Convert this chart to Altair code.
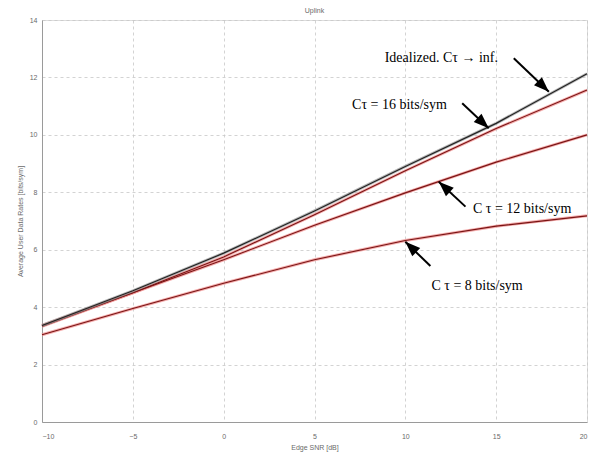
import altair as alt
import pandas as pd

# ---- data ----
snr = [-10, -5, 0, 5, 10, 15, 20]
ideal = [3.36, 4.57, 5.88, 7.35, 8.9, 10.4, 12.13]
ct16 = [3.33, 4.5, 5.75, 7.22, 8.75, 10.22, 11.56]
ct12 = [3.36, 4.5, 5.65, 6.85, 7.98, 9.05, 10.0]
ct8 = [3.04, 3.95, 4.83, 5.65, 6.32, 6.82, 7.18]

ann_text = ["Idealized. C\u03c4 \u2192 inf.", "C\u03c4 = 16 bits/sym",
            "C \u03c4 = 12 bits/sym", "C \u03c4 = 8 bits/sym"]
ann_x = [11.98, 9.68, 16.43, 13.95]
ann_y = [12.67, 11.04, 7.42, 4.75]

arr_x0 = [15.97, 13.13, 13.31, 11.38]
arr_y0 = [12.67, 11.10, 7.50, 5.43]
arr_x1 = [17.90, 14.59, 11.84, 10.00]
arr_y1 = [11.50, 10.23, 8.37, 6.28]
arr_angle = [134, 133, 313, 314]

x_ticks = [-10, -5, 0, 5, 10, 15, 20]
y_ticks = [0, 2, 4, 6, 8, 10, 12, 14]

# ---- tables ----
red = pd.DataFrame({
    "snr": snr * 3,
    "rate": ct16 + ct12 + ct8,
    "series": ["16"] * 7 + ["12"] * 7 + ["8"] * 7,
})
blk = pd.DataFrame({"snr": snr, "rate": ideal})
ann = pd.DataFrame({"t": ann_text, "x": ann_x, "y": ann_y})
arr = pd.DataFrame({"x0": arr_x0, "y0": arr_y0, "x1": arr_x1, "y1": arr_y1, "a": arr_angle})

xs = alt.Scale(domain=[-10, 20], nice=False, zero=False)
ys = alt.Scale(domain=[0, 14], nice=False, zero=False)

axis_common = dict(
    grid=True, gridDash=[3, 3], gridColor="#c8c8c8", gridWidth=0.8,
    domainColor="#9a9a9a", ticks=False,
    labelFont="Liberation Sans", labelFontSize=7, labelColor="#6a6a6a",
    titleFont="Liberation Sans", titleFontSize=7, titleColor="#6a6a6a",
    titleFontWeight="normal",
)

X = alt.X("snr:Q", scale=xs, title="Edge SNR [dB]",
          axis=alt.Axis(values=x_ticks, labelPadding=10, titlePadding=4, **axis_common))
Y = alt.Y("rate:Q", scale=ys, title="Average User Data Rates [bits/sym]",
          axis=alt.Axis(values=y_ticks, labelPadding=5, titlePadding=6, **axis_common))

red_halo = alt.Chart(red).mark_line(color="#f08a8a", strokeWidth=3, opacity=0.7).encode(
    x=X, y=Y, detail="series:N")
red_core = alt.Chart(red).mark_line(color="#7a1414", strokeWidth=1.1).encode(
    x=X, y=Y, detail="series:N")
blk_halo = alt.Chart(blk).mark_line(color="#9a9a9a", strokeWidth=3, opacity=0.7).encode(x=X, y=Y)
blk_core = alt.Chart(blk).mark_line(color="#222222", strokeWidth=1.2).encode(x=X, y=Y)

shafts = alt.Chart(arr).mark_rule(color="black", strokeWidth=2).encode(
    x=alt.X("x0:Q", scale=xs), y=alt.Y("y0:Q", scale=ys),
    x2="x1:Q", y2="y1:Q")
heads = alt.Chart(arr).mark_point(
    shape="M0,0L-0.75,2L0.75,2Z", filled=True, color="black", opacity=1, size=230
).encode(x=alt.X("x1:Q", scale=xs), y=alt.Y("y1:Q", scale=ys), angle=alt.Angle("a:Q", scale=None))

texts = alt.Chart(ann).mark_text(font="Liberation Serif", fontSize=14, color="black",
                                 align="center", baseline="middle").encode(
    x=alt.X("x:Q", scale=xs), y=alt.Y("y:Q", scale=ys), text="t:N")

chart = alt.layer(red_halo, red_core, blk_halo, blk_core, shafts, heads, texts).properties(
    width=545, height=402,
    title=alt.TitleParams("Uplink", font="Liberation Sans", fontSize=7, color="#6a6a6a",
                          fontWeight="normal", offset=2),
    autosize=alt.AutoSizeParams(type="none"),
    padding={"left": 34, "top": 12, "right": 1, "bottom": 32},
).configure_view(stroke="#9a9a9a", strokeWidth=1).configure(background="white")

chart.save("out.html", embed_options={"renderer": "svg", "actions": False})
